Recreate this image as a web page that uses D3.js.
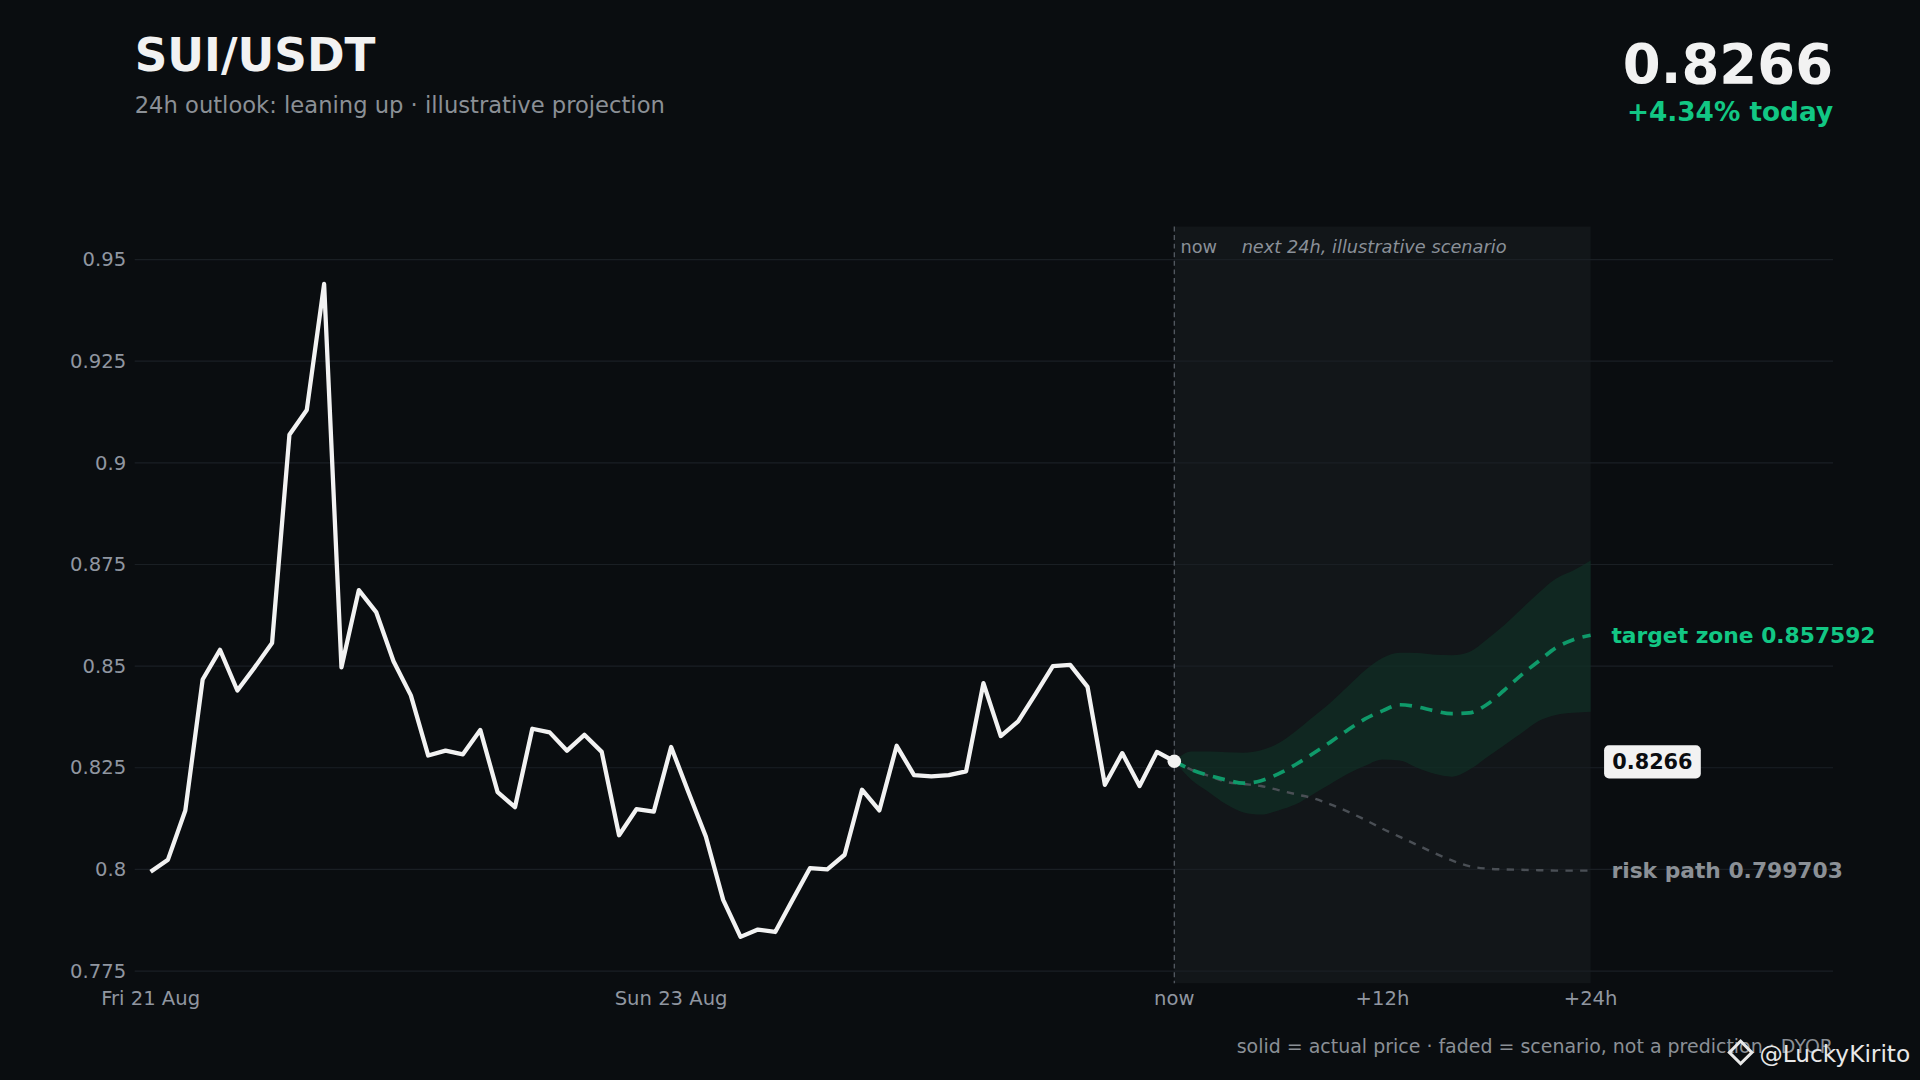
<!DOCTYPE html>
<html><head><meta charset="utf-8">
<script src="https://cdn.jsdelivr.net/npm/d3@7"></script>
<style>
html,body{margin:0;padding:0;background:#0a0d10;overflow:hidden}
text{font-family:"DejaVu Sans",sans-serif}
</style></head>
<body>
<svg id="chart" width="1920" height="1080" viewBox="0 0 1568 882"></svg>
<script>
// actual closes, one step each, Fri 21 Aug -> now
var closes = [0.7994,0.8024,0.8145,0.8467,0.854,0.844,0.8497,0.8557,0.9069,0.913,0.944,0.8497,
  0.8687,0.8633,0.8512,0.8428,0.828,0.8292,0.8283,0.8343,0.819,0.8153,0.8346,0.8337,0.8292,
  0.8331,0.8289,0.8084,0.8148,0.8142,0.8301,0.819,0.8081,0.7925,0.7834,0.7852,0.7846,0.7925,
  0.8003,0.8,0.8036,0.8196,0.8145,0.8304,0.8232,0.8229,0.8232,0.8241,0.8458,0.8328,0.8364,
  0.8431,0.85,0.8503,0.8449,0.8208,0.8286,0.8205,0.8289,0.8266];
// scenario, hourly 0..24h
var target = [0.8266,0.8245,0.8231,0.822,0.8212,0.8218,0.8235,0.8258,0.8285,0.8313,0.8343,0.837,
  0.839,0.8405,0.84,0.839,0.8383,0.8385,0.8405,0.844,0.8478,0.8512,0.8545,0.8565,0.8576];
var bandHigh = [0.8266,0.829,0.829,0.8288,0.8287,0.8293,0.831,0.834,0.8375,0.841,0.845,0.849,
  0.852,0.8533,0.8532,0.8528,0.8527,0.8535,0.8565,0.86,0.864,0.868,0.8715,0.8735,0.876];
var bandLow = [0.8266,0.822,0.819,0.816,0.814,0.8135,0.8145,0.816,0.8185,0.821,0.8235,0.8255,
  0.827,0.8268,0.825,0.8235,0.8228,0.8245,0.8275,0.8305,0.8335,0.8365,0.838,0.8385,0.8388];
var risk = [0.8266,0.8245,0.823,0.8215,0.821,0.8205,0.8195,0.8185,0.8175,0.816,0.8142,0.8122,
  0.81,0.808,0.806,0.804,0.8022,0.8008,0.8002,0.8,0.7999,0.7998,0.7997,0.7997,0.7997];
var yTicks = [0.775,0.8,0.825,0.85,0.875,0.9,0.925,0.95];
var xTicks = [{i:0,label:"Fri 21 Aug"},{i:30,label:"Sun 23 Aug"}];
var futureTicks = [{h:0,label:"now"},{h:12,label:"+12h"},{h:24,label:"+24h"}];
var targetValue = "0.857592", riskValue = "0.799703", lastPrice = "0.8266", change = "+4.34% today";

var svg = d3.select("#chart");
var plotLeft = 110, plotRight = 1497, plotTop = 185, plotBottom = 803;
var nowX = 959;
var y = d3.scaleLinear().domain([0.775, 0.95]).range([793, 212]);
var xh = d3.scaleLinear().domain([0, closes.length - 1]).range([123, nowX]);
var xf = d3.scaleLinear().domain([0, 24]).range([nowX, 1299]);

// future shading
svg.append("rect").attr("x", nowX).attr("y", plotTop).attr("width", xf(24) - nowX).attr("height", plotBottom - plotTop)
  .attr("fill", "#121619");

// grid
svg.selectAll(".grid").data(yTicks).enter().append("line")
  .attr("x1", plotLeft).attr("x2", plotRight).attr("y1", d => y(d)).attr("y2", d => y(d))
  .attr("stroke", "#1a1f24").attr("stroke-width", 1);
svg.selectAll(".ylab").data(yTicks).enter().append("text")
  .attr("x", 103).attr("y", d => y(d) + 5.5).attr("text-anchor", "end")
  .attr("fill", "#9096a0").attr("font-size", 16).text(d => d3.format("")(d));

// x labels
svg.selectAll(".xlab").data(xTicks).enter().append("text")
  .attr("x", d => xh(d.i)).attr("y", 821).attr("text-anchor", "middle")
  .attr("fill", "#9096a0").attr("font-size", 16).text(d => d.label);
svg.selectAll(".flab").data(futureTicks).enter().append("text")
  .attr("x", d => xf(d.h)).attr("y", 821).attr("text-anchor", "middle")
  .attr("fill", "#9096a0").attr("font-size", 16).text(d => d.label);

// now line
svg.append("line").attr("x1", nowX).attr("x2", nowX).attr("y1", plotTop).attr("y2", plotBottom)
  .attr("stroke", "#5a6068").attr("stroke-dasharray", "4,3");
svg.append("text").attr("x", 964).attr("y", 207).attr("fill", "#8a9098").attr("font-size", 14.5).text("now");
svg.append("text").attr("x", 1014).attr("y", 207).attr("fill", "#8a9098").attr("font-size", 14.5)
  .attr("font-style", "italic").text("next 24h, illustrative scenario");

// band
var idx = d3.range(25);
svg.append("path").datum(idx)
  .attr("d", d3.area().curve(d3.curveMonotoneX).x(h => xf(h)).y0(h => y(bandLow[h])).y1(h => y(bandHigh[h])))
  .attr("fill", "#0f3327").attr("opacity", 0.6);

// risk path
svg.append("path").datum(risk)
  .attr("d", d3.line().curve(d3.curveMonotoneX).x((d, i) => xf(i)).y(d => y(d)))
  .attr("fill", "none").attr("stroke", "#4a4f55").attr("stroke-width", 2).attr("stroke-dasharray", "6,6");

// target path
svg.append("path").datum(target)
  .attr("d", d3.line().curve(d3.curveMonotoneX).x((d, i) => xf(i)).y(d => y(d)))
  .attr("fill", "none").attr("stroke", "#0f9a6a").attr("stroke-width", 3).attr("stroke-dasharray", "10,7");

// actual price line
svg.append("path").datum(closes)
  .attr("d", d3.line().x((d, i) => xh(i)).y(d => y(d)))
  .attr("fill", "none").attr("stroke", "#f2f2f2").attr("stroke-width", 3.5).attr("stroke-linejoin", "round");
svg.append("circle").attr("cx", nowX).attr("cy", y(closes[closes.length - 1])).attr("r", 5.5).attr("fill", "#f2f2f2");

// right labels
svg.append("text").attr("x", 1316).attr("y", y(target[24]) + 6).attr("fill", "#12c784")
  .attr("font-size", 17.8).attr("font-weight", "bold").text("target zone " + targetValue);
svg.append("text").attr("x", 1316).attr("y", y(risk[24]) + 6).attr("fill", "#8b9096")
  .attr("font-size", 17.8).attr("font-weight", "bold").text("risk path " + riskValue);
var py = y(closes[closes.length - 1]);
svg.append("rect").attr("x", 1310).attr("y", py - 13).attr("width", 79).attr("height", 27).attr("rx", 4).attr("fill", "#f2f2f2");
svg.append("text").attr("x", 1349.5).attr("y", py + 6).attr("text-anchor", "middle").attr("fill", "#0a0d10")
  .attr("font-size", 17).attr("font-weight", "bold").text(lastPrice);

// header
svg.append("text").attr("x", 110).attr("y", 58).attr("fill", "#f2f2f2").attr("font-size", 37).attr("font-weight", "bold").text("SUI/USDT");
svg.append("text").attr("x", 110).attr("y", 92).attr("fill", "#8b9096").attr("font-size", 18.5).text("24h outlook: leaning up · illustrative projection");
svg.append("text").attr("x", 1497).attr("y", 68).attr("text-anchor", "end").attr("fill", "#f2f2f2").attr("font-size", 44.5).attr("font-weight", "bold").text(lastPrice);
svg.append("text").attr("x", 1497).attr("y", 99).attr("text-anchor", "end").attr("fill", "#12c784").attr("font-size", 21.5).attr("font-weight", "bold").text(change);

// footer
svg.append("text").attr("x", 1497).attr("y", 860).attr("text-anchor", "end").attr("fill", "#8b9096").attr("font-size", 15.5)
  .text("solid = actual price · faded = scenario, not a prediction · DYOR");
svg.append("rect").attr("x", 1415).attr("y", 853).attr("width", 13).attr("height", 13)
  .attr("transform", "rotate(45 1421.5 859.5)").attr("fill", "none").attr("stroke", "#e8e8e8").attr("stroke-width", 2.5);
svg.append("text").attr("x", 1560).attr("y", 867).attr("text-anchor", "end").attr("fill", "#e8e8e8").attr("font-size", 19).text("@LuckyKirito");
</script>
</body></html>
